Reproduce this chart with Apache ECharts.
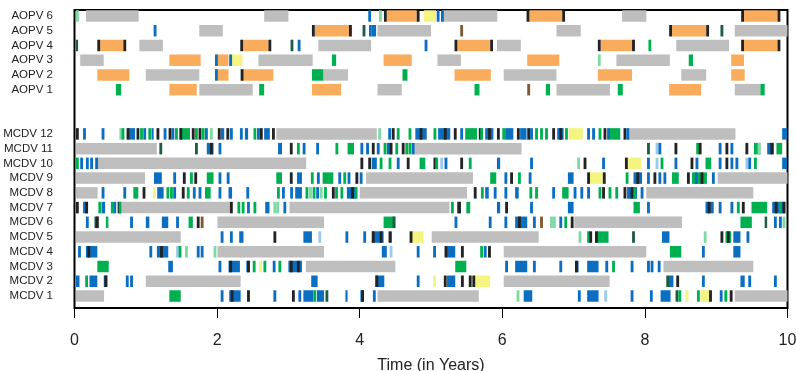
<!DOCTYPE html>
<html>
<head>
<meta charset="utf-8">
<script src="https://cdn.jsdelivr.net/npm/echarts@6/dist/echarts.min.js"></script>
<style>
  html, body { margin: 0; padding: 0; background: #fff; }
  #chart { width: 796px; height: 371px; }
</style>
</head>
<body>
<div id="chart"></div>
<script>
// each row: [start, end, colour] blocks, or [t, colour] for a thin tick (years)
const aopv6 = [[0.02,'L'],[0.16,0.9,'g'],[2.66,3.0,'g'],[4.12,'b'],[4.27,'L'],[4.34,'d'],[4.38,4.8,'o'],[4.8,'d'],[4.9,5.07,'y'],[5.08,'b'],[5.14,'b'],[5.17,5.93,'g'],[6.34,'d'],[6.38,6.84,'o'],[6.84,'d'],[7.68,8.02,'g'],[9.35,'d'],[9.39,9.86,'o'],[9.86,'d']]
const aopv5 = [[1.11,'b'],[1.75,2.08,'g'],[3.33,'d'],[3.37,3.85,'o'],[3.85,'d'],[4.04,'n'],[4.13,'b'],[4.17,4.23,'b'],[4.25,5.0,'g'],[5.41,'r'],[6.76,7.1,'g'],[8.34,'d'],[8.38,8.86,'o'],[8.86,'d'],[9.06,'n'],[9.26,10,'g']]
const aopv4 = [[0.02,0.05,'n'],[0.32,'d'],[0.36,0.685,'o'],[0.685,'d'],[0.91,1.24,'g'],[2.325,'d'],[2.365,2.72,'o'],[2.72,'d'],[3.03,'n'],[3.13,'b'],[3.42,4.16,'g'],[4.91,'b'],[5.33,'d'],[5.37,5.83,'o'],[5.83,'d'],[5.925,6.26,'g'],[7.34,'d'],[7.38,7.82,'o'],[7.82,'d'],[8.05,'G'],[8.44,9.18,'g'],[9.35,'d'],[9.39,9.86,'o'],[9.86,'d']]
const aopv3 = [[0.08,0.41,'g'],[1.33,1.77,'o'],[1.97,'b'],[1.99,2.16,'o'],[2.17,'b'],[2.18,2.355,'y'],[2.58,3.34,'g'],[3.61,3.67,'G'],[4.335,4.73,'o'],[5.09,5.42,'g'],[6.35,6.8,'o'],[7.34,'L'],[7.6,8.35,'g'],[8.615,8.675,'G'],[9.21,9.39,'o']]
const aopv2 = [[0.32,0.77,'o'],[1.0,1.75,'g'],[1.97,'b'],[1.99,2.16,'o'],[2.33,'d'],[2.34,2.79,'o'],[3.33,3.49,'G'],[3.49,3.835,'g'],[4.6,4.67,'G'],[5.33,5.84,'o'],[6.02,6.76,'g'],[7.34,7.82,'o'],[8.51,8.86,'g'],[9.21,9.4,'o']]
const aopv1 = [[0.58,0.655,'G'],[1.33,1.715,'o'],[1.75,2.5,'g'],[2.59,2.66,'G'],[3.33,3.74,'o'],[4.25,4.59,'g'],[5.61,5.68,'G'],[6.35,'r'],[6.61,6.67,'G'],[6.76,7.51,'g'],[7.62,7.69,'G'],[8.34,8.79,'o'],[9.26,9.62,'g'],[9.62,9.68,'G']]

const mcdv12 = [[0.02,'d'],[0.12,'b'],[0.38,'b'],[0.63,'L'],[0.66,'G'],[0.73,'d'],[0.755,0.85,'b'],[0.87,'d'],[0.92,'G'],[0.965,'b'],[1.035,'G'],[1.08,1.11,'b'],[1.15,'d'],[1.25,1.29,'b'],[1.32,'d'],[1.36,'b'],[1.41,'G'],[1.48,1.62,'G'],[1.47,'d'],[1.645,'d'],[1.69,'G'],[1.74,'d'],[1.785,'G'],[1.83,'b'],[1.9,'L'],[2.01,'d'],[2.05,2.1,'b'],[2.13,'d'],[2.18,'b'],[2.32,'b'],[2.39,2.435,'b'],[2.51,'G'],[2.56,'b'],[2.6,'d'],[2.66,2.74,'b'],[2.77,2.81,'d'],[2.83,4.24,'g'],[4.26,'L'],[4.4,'b'],[4.45,'d'],[4.52,'G'],[4.685,'G'],[4.78,4.94,'b'],[4.84,'d'],[5.035,'G'],[5.1,5.27,'b'],[5.18,'d'],[5.32,'d'],[5.41,5.45,'b'],[5.48,5.645,'G'],[5.67,'d'],[5.69,'G'],[5.76,5.875,'b'],[5.8,'d'],[5.925,'d'],[6.0,'G'],[6.04,6.155,'b'],[6.205,'d'],[6.25,6.34,'b'],[6.35,'d'],[6.39,'b'],[6.46,'G'],[6.53,'G'],[6.6,'G'],[6.7,'d'],[6.77,6.86,'b'],[6.8,'d'],[6.88,'G'],[6.93,7.13,'y'],[7.19,'b'],[7.26,'b'],[7.35,'G'],[7.42,'d'],[7.47,'b'],[7.505,7.655,'G'],[7.7,'d'],[7.74,'b'],[7.76,9.27,'g'],[9.925,9.995,'b']]
const mcdv11 = [[0.02,1.155,'g'],[1.19,'n'],[1.69,'n'],[1.855,1.95,'b'],[1.9,'d'],[2.02,'b'],[2.855,2.91,'b'],[3.02,'d'],[3.12,'G'],[3.2,'b'],[3.39,'b'],[3.66,'G'],[3.83,3.92,'G'],[4.01,'b'],[4.09,'b'],[4.17,'d'],[4.24,'b'],[4.335,'G'],[4.38,4.45,'b'],[4.42,'d'],[4.5,'G'],[4.59,'d'],[4.64,'G'],[4.685,'G'],[4.73,'b'],[4.765,6.27,'g'],[8.03,'n'],[8.15,'l'],[8.19,'b'],[8.415,'d'],[8.72,'G'],[8.755,'d'],[9.035,'b'],[9.13,'d'],[9.2,'b'],[9.41,'d'],[9.53,9.62,'G'],[9.58,'L'],[9.715,9.81,'b'],[9.76,'d'],[9.845,9.925,'G']]
const mcdv10 = [[0.02,'G'],[0.08,'b'],[0.16,'b'],[0.22,'b'],[0.29,'b'],[0.32,3.25,'g'],[4.01,'d'],[4.12,'d'],[4.17,4.24,'b'],[4.28,'G'],[4.405,'G'],[4.52,'b'],[4.66,'d'],[4.84,4.92,'G'],[5.035,'d'],[5.06,'G'],[5.13,'l'],[5.19,'b'],[5.41,'d'],[5.53,'G'],[5.925,5.97,'b'],[6.39,'b'],[7.05,'L'],[7.14,'d'],[7.4,'b'],[7.72,'d'],[7.74,7.95,'y'],[8.03,'b'],[8.15,'l'],[8.22,'G'],[8.415,'b'],[8.64,'d'],[8.71,'b'],[8.85,8.93,'G'],[9.035,'b'],[9.13,'d'],[9.2,'b'],[9.27,'b'],[9.41,'l'],[9.45,'b'],[9.53,'G'],[9.925,9.995,'b']]
const mcdv9 = [[0.02,0.99,'g'],[1.115,1.225,'b'],[1.385,'b'],[1.52,'d'],[1.62,'G'],[1.68,'d'],[1.855,1.95,'G'],[2.02,'b'],[2.135,'b'],[2.83,2.91,'G'],[3.02,'d'],[3.12,3.19,'b'],[3.315,'G'],[3.4,'b'],[3.48,3.63,'G'],[3.7,'b'],[3.77,'G'],[3.83,'b'],[3.94,'d'],[4.0,'b'],[4.09,5.59,'g'],[5.83,5.915,'G'],[6.03,'b'],[6.11,'d'],[6.22,'G'],[6.37,'b'],[6.92,7.0,'b'],[7.19,'d'],[7.21,7.41,'y'],[7.41,'d'],[7.73,'G'],[7.84,7.96,'b'],[7.88,'d'],[8.03,'b'],[8.12,'d'],[8.19,'b'],[8.26,'b'],[8.38,8.475,'G'],[8.59,'d'],[8.66,8.87,'G'],[8.7,'b'],[8.78,'d'],[8.94,'b'],[9.02,10,'g']]
const mcdv8 = [[0.02,0.325,'g'],[0.38,'b'],[0.685,'b'],[0.825,0.895,'G'],[0.955,'d'],[1.1,'y'],[1.16,1.25,'b'],[1.29,'G'],[1.34,'G'],[1.385,'b'],[1.505,'d'],[1.575,'G'],[1.66,'b'],[1.74,'b'],[1.83,1.91,'G'],[2.02,'b'],[2.16,2.21,'b'],[2.41,'b'],[2.84,'G'],[2.91,'b'],[3.025,'b'],[3.095,3.19,'b'],[3.24,'G'],[3.29,'L'],[3.34,'G'],[3.39,'b'],[3.44,'L'],[3.5,'G'],[3.61,'d'],[3.655,'G'],[3.73,'G'],[3.82,3.96,'b'],[3.88,'d'],[3.93,'G'],[4.0,5.505,'g'],[5.6,'d'],[5.7,'G'],[5.76,5.81,'b'],[5.88,'b'],[6.03,'b'],[6.18,6.23,'b'],[6.38,'G'],[6.46,'G'],[6.7,'b'],[6.84,6.93,'G'],[7.0,'b'],[7.095,'b'],[7.19,'b'],[7.35,'G'],[7.4,'d'],[7.49,'G'],[7.585,'G'],[7.7,'d'],[7.75,'b'],[7.77,7.89,'b'],[7.8,'d'],[7.84,'G'],[7.94,'b'],[8.02,9.52,'g']]
const mcdv7 = [[0.02,'d'],[0.12,0.19,'b'],[0.15,'d'],[0.335,'G'],[0.38,0.43,'b'],[0.51,'G'],[0.545,'b'],[0.605,0.65,'d'],[0.62,'G'],[0.66,2.18,'g'],[2.18,'d'],[2.285,'G'],[2.345,'G'],[2.42,'b'],[2.51,'G'],[2.675,2.735,'b'],[2.79,'L'],[2.83,'L'],[2.93,'b'],[3.015,5.26,'g'],[5.28,'G'],[5.365,5.41,'b'],[5.38,'d'],[5.495,5.55,'G'],[5.925,5.97,'b'],[6.04,'d'],[6.39,'b'],[6.92,7.0,'b'],[7.84,7.93,'G'],[8.03,'b'],[8.85,8.965,'b'],[8.88,'d'],[9.035,'b'],[9.2,'b'],[9.29,'G'],[9.36,'d'],[9.495,9.715,'G'],[9.785,9.97,'b'],[9.82,'d'],[9.88,'G'],[9.93,'d']]
const mcdv6 = [[0.16,'b'],[0.28,0.335,'n'],[0.3,'d'],[0.44,0.475,'G'],[0.78,'b'],[1.0,1.05,'b'],[1.225,1.315,'b'],[1.425,'b'],[1.6,1.66,'G'],[1.715,'d'],[1.77,'r'],[2.005,3.5,'g'],[4.335,4.5,'G'],[4.46,'n'],[5.33,'b'],[5.81,'b'],[6.03,'b'],[6.18,6.35,'b'],[6.22,'d'],[6.43,'b'],[6.53,'r'],[6.67,'L'],[6.71,'L'],[6.8,'b'],[6.87,'G'],[6.96,'d'],[7.01,8.52,'g'],[9.34,9.5,'G'],[9.68,9.715,'n'],[9.81,'b'],[9.88,'b'],[9.93,'L']]
const mcdv5 = [[0.02,1.49,'g'],[2.05,'b'],[2.18,'b'],[2.31,2.37,'b'],[2.79,'d'],[3.21,3.33,'b'],[3.42,'l'],[3.8,'b'],[4.05,'b'],[4.17,4.335,'b'],[4.17,'d'],[4.28,'d'],[4.405,4.45,'d'],[4.7,'d'],[4.72,4.895,'y'],[5.01,6.51,'g'],[7.07,'L'],[7.19,'G'],[7.22,'d'],[7.32,7.49,'G'],[7.3,'d'],[7.82,'n'],[8.24,8.345,'b'],[8.825,'L'],[9.06,'d'],[9.13,9.21,'G'],[9.15,'d'],[9.24,9.34,'b'],[9.425,'b']]
const mcdv4 = [[0.05,'b'],[0.16,0.32,'b'],[0.18,'d'],[1.05,'b'],[1.155,1.315,'b'],[1.2,'d'],[1.425,1.48,'l'],[1.46,'G'],[1.55,'L'],[1.715,'b'],[1.77,'b'],[1.95,'L'],[2.005,3.5,'g'],[4.31,4.38,'b'],[4.42,'l'],[4.8,'b'],[5.03,'b'],[5.19,'d'],[5.225,5.34,'b'],[5.42,'d'],[5.69,'G'],[5.74,'b'],[5.8,'d'],[6.02,8.02,'g'],[8.35,8.51,'G'],[8.8,'b'],[9.24,9.34,'b']]
const mcdv3 = [[0.32,0.48,'G'],[1.315,1.38,'b'],[2.02,'b'],[2.16,2.32,'b'],[2.17,'d'],[2.41,2.46,'b'],[2.42,'d'],[2.5,'G'],[2.59,'y'],[2.65,2.69,'G'],[2.78,'b'],[2.86,'G'],[3.0,3.19,'b'],[3.02,'d'],[3.12,'d'],[3.245,4.5,'g'],[5.34,5.495,'G'],[6.04,'b'],[6.18,6.35,'b'],[6.43,'b'],[6.8,'b'],[7.02,7.07,'b'],[7.02,'d'],[7.19,7.35,'b'],[7.445,'b'],[7.54,'G'],[7.8,'b'],[8.03,'b'],[8.08,'b'],[8.18,'b'],[8.26,9.52,'g']]
const mcdv2 = [[0.02,0.07,'b'],[0.15,'G'],[0.21,0.32,'b'],[0.41,0.46,'b'],[0.42,'d'],[0.72,'b'],[0.78,'b'],[1.0,2.33,'g'],[3.32,3.41,'b'],[4.22,4.345,'b'],[4.22,'d'],[4.8,'b'],[5.03,'y'],[5.18,'d'],[5.225,5.34,'b'],[5.42,'d'],[5.53,'d'],[5.58,'d'],[5.6,5.83,'y'],[6.02,7.505,'g'],[8.3,'n'],[8.335,8.4,'b'],[8.44,'d'],[8.8,'b'],[9.34,9.4,'b'],[9.45,'b'],[9.81,'b']]
const mcdv1 = [[0.02,0.415,'g'],[1.33,1.49,'G'],[2.05,'b'],[2.17,2.33,'b'],[2.19,'d'],[2.42,'d'],[2.79,'b'],[3.05,'d'],[3.14,'b'],[3.21,3.35,'b'],[3.35,'G'],[3.4,3.5,'b'],[3.52,'n'],[3.8,3.83,'b'],[4.01,4.06,'b'],[4.02,'d'],[4.185,'b'],[4.25,5.67,'g'],[6.2,'L'],[6.3,6.42,'b'],[7.06,'b'],[7.19,7.35,'b'],[7.43,'l'],[7.8,'b'],[8.07,'b'],[8.22,8.36,'b'],[8.43,'n'],[8.47,'G'],[8.57,'y'],[8.73,'G'],[8.78,8.91,'y'],[8.9,'d'],[9.05,'b'],[9.115,'G'],[9.19,'d'],[9.26,10,'g']]

// bottom to top, two blank rows between the groups
const rowNames = ['MCDV 1','MCDV 2','MCDV 3','MCDV 4','MCDV 5','MCDV 6','MCDV 7','MCDV 8','MCDV 9','MCDV 10','MCDV 11','MCDV 12','','','AOPV 1','AOPV 2','AOPV 3','AOPV 4','AOPV 5','AOPV 6']
const rowData = [mcdv1, mcdv2, mcdv3, mcdv4, mcdv5, mcdv6, mcdv7, mcdv8, mcdv9, mcdv10, mcdv11, mcdv12, [], [], aopv1, aopv2, aopv3, aopv4, aopv5, aopv6]
const xTicks = [0, 2, 4, 6, 8, 10]

const palette = {
  g: '#bebebe', o: '#f9ad5c', y: '#f3f580', G: '#00b050', b: '#0b6ec1',
  d: '#232323', n: '#1d5c3f', l: '#9cc9ee', L: '#7ddaa5', r: '#7f5a33'
}
const TICK = 0.04

const segData = []
rowData.forEach((segs, row) => {
  segs
    .map((s) => (s.length === 2 ? [s[0], s[0] + TICK, s[1]] : s))
    .sort((a, b) => (b[1] - b[0]) - (a[1] - a[0]))
    .forEach((s) => {
      segData.push({ value: [s[0], s[1], row], itemStyle: { color: palette[s[2]] } })
    })
})

function renderSeg(params, api) {
  const row = api.value(2)
  const a = api.coord([api.value(0), row])
  const b = api.coord([api.value(1), row])
  const h = api.size([0, 1])[1] * 0.78
  const cs = params.coordSys
  const rect = echarts.graphic.clipRectByRect(
    { x: a[0], y: a[1] - h / 2, width: Math.max(b[0] - a[0], 1), height: h },
    { x: cs.x, y: cs.y, width: cs.width, height: cs.height }
  )
  return rect && { type: 'rect', shape: rect, style: { fill: api.visual('color') } }
}

const chart = echarts.init(document.getElementById('chart'))
const font = "'Liberation Sans', Arial, sans-serif"

chart.setOption({
  animation: false,
  textStyle: { fontFamily: font },
  grid: [
    {
      left: 74.5, right: 8.5, top: 10, bottom: 63, outerBoundsMode: 'none',
      show: true, borderColor: '#000', borderWidth: 2, backgroundColor: 'transparent'
    },
    { left: 74.5, right: 8.5, top: 8.63, bottom: 67.63, outerBoundsMode: 'none' }
  ],
  xAxis: [
    {
      gridIndex: 0, type: 'value', min: xTicks[0], max: xTicks[xTicks.length - 1], interval: 2,
      axisLine: { show: true, lineStyle: { color: '#000', width: 1.5 } },
      axisTick: { show: true, length: 10, lineStyle: { color: '#000' } },
      axisLabel: { color: '#222', fontSize: 16, margin: 25 },
      splitLine: { show: false },
      name: 'Time (in Years)', nameLocation: 'middle', nameGap: 50,
      nameTextStyle: { color: '#222', fontSize: 16 }
    },
    { gridIndex: 1, type: 'value', min: 0, max: 10, show: false }
  ],
  yAxis: [
    { gridIndex: 0, type: 'value', show: false },
    {
      gridIndex: 1, type: 'category', data: rowNames,
      axisLine: { show: false }, axisTick: { show: false }, splitLine: { show: false },
      axisLabel: { interval: 0, color: '#222', fontSize: 11.5, margin: 21.5 }
    }
  ],
  series: [{
    type: 'custom',
    xAxisIndex: 1,
    yAxisIndex: 1,
    renderItem: renderSeg,
    encode: { x: [0, 1], y: 2 },
    data: segData
  }]
})
</script>
</body>
</html>
